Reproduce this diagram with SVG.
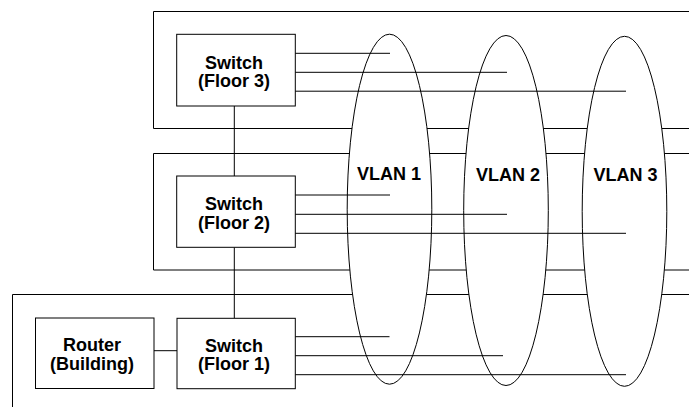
<svg xmlns="http://www.w3.org/2000/svg" width="689" height="407" viewBox="0 0 689 407">
<style>
.ln{fill:none;stroke:#000;stroke-width:1}
.box{fill:#fff;stroke:#000;stroke-width:1}
.vl{fill:#fff;stroke:#000;stroke-width:1}
.t{font-family:"Liberation Sans",Arial,sans-serif;font-weight:bold;font-size:18px;text-anchor:middle;fill:#000}
</style>
<rect width="689" height="407" fill="#fff"/>
<g id="floors">
<path class="ln" d="M689,11.5 H153.5 V128.5 H689"/>
<path class="ln" d="M689,153.5 H153.5 V270 H689"/>
<path class="ln" d="M689,294.5 H12.5 V407"/>
</g>
<g id="vlan1">
<ellipse class="vl" cx="389.5" cy="209.2" rx="42.3" ry="175"/>
<text class="t" x="389" y="180">VLAN 1</text>
</g>
<g id="vlan2">
<ellipse class="vl" cx="506" cy="210.5" rx="42.3" ry="175"/>
<text class="t" x="508" y="180.5">VLAN 2</text>
</g>
<g id="vlan3">
<ellipse class="vl" cx="624.5" cy="211.3" rx="42.3" ry="175"/>
<text class="t" x="625.5" y="180.5">VLAN 3</text>
</g>
<g id="connectors">
<line class="ln" x1="295" y1="53.3" x2="390" y2="53.3"/>
<line class="ln" x1="295" y1="72.3" x2="507" y2="72.3"/>
<line class="ln" x1="295" y1="91.2" x2="626" y2="91.2"/>
<line class="ln" x1="295" y1="195" x2="390" y2="195"/>
<line class="ln" x1="295" y1="214.3" x2="507" y2="214.3"/>
<line class="ln" x1="295" y1="233.3" x2="626" y2="233.3"/>
<line class="ln" x1="295" y1="336.7" x2="389.5" y2="336.7"/>
<line class="ln" x1="295" y1="355.7" x2="503" y2="355.7"/>
<line class="ln" x1="295" y1="374.7" x2="626" y2="374.7"/>
<line class="ln" x1="234.3" y1="106" x2="234.3" y2="176"/>
<line class="ln" x1="234.3" y1="247.3" x2="234.3" y2="318.3"/>
<line class="ln" x1="154" y1="350.7" x2="177" y2="350.7"/>
</g>
<g id="switch3">
<rect class="box" x="176.7" y="34.3" width="118.6" height="71.7"/>
<text class="t" x="234" y="68.7">Switch</text>
<text class="t" x="234" y="87.3">(Floor 3)</text>
</g>
<g id="switch2">
<rect class="box" x="176.7" y="176" width="118.6" height="71.3"/>
<text class="t" x="234" y="210">Switch</text>
<text class="t" x="234" y="228.6">(Floor 2)</text>
</g>
<g id="switch1">
<rect class="box" x="177" y="318.3" width="118.3" height="70.4"/>
<text class="t" x="234" y="351.5">Switch</text>
<text class="t" x="234" y="370">(Floor 1)</text>
</g>
<g id="router">
<rect class="box" x="35.5" y="318" width="118.5" height="70.5"/>
<text class="t" x="92" y="351">Router</text>
<text class="t" x="92" y="369.6">(Building)</text>
</g>
</svg>
